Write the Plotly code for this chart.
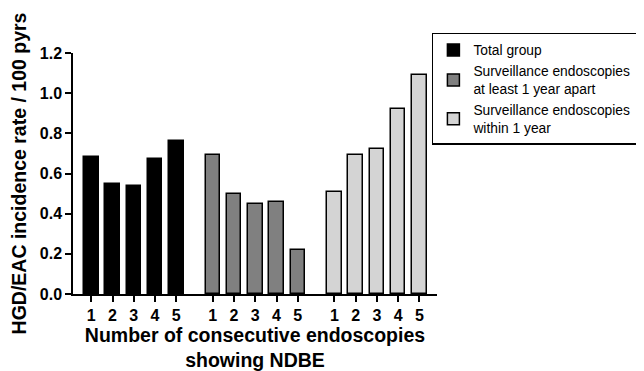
import plotly.graph_objects as go

tick_labels = ["1", "2", "3", "4", "5"]
series_names = ["Total group", "Surveillance endoscopies<br>at least 1 year apart",
                "Surveillance endoscopies<br>within 1 year"]
total_group = [0.68, 0.55, 0.54, 0.67, 0.76]
at_least_1yr = [0.69, 0.50, 0.45, 0.46, 0.22]
within_1yr = [0.51, 0.69, 0.72, 0.92, 1.09]
colors = ["#000000", "#808080", "#d4d4d4"]

series = [total_group, at_least_1yr, within_1yr]
group_step = 5.72
FONT = "Liberation Sans, Arial, sans-serif"

fig = go.Figure()
xs_all, labels_all = [], []
for g, (name, vals, col) in enumerate(zip(series_names, series, colors)):
    xs = [g * group_step + i for i in range(len(vals))]
    xs_all += xs
    labels_all += ["<b>%s</b>" % t for t in tick_labels]
    fig.add_trace(go.Bar(
        x=xs, y=vals, name=name, width=0.68,
        marker=dict(color=col, line=dict(color="#000000", width=1.5)),
    ))

fig.update_layout(
    width=664, height=363,
    margin=dict(l=65, r=235, t=45, b=77),
    paper_bgcolor="white", plot_bgcolor="white",
    font=dict(family=FONT, color="#000000"),
    showlegend=True,
    legend=dict(x=0.986, xanchor="left", y=1.083, yanchor="top",
                bordercolor="#000000", borderwidth=1.5,
                font=dict(size=13.8), tracegroupgap=0,
                itemwidth=30),
    bargap=0,
)
fig.update_xaxes(
    range=[-0.86, 2 * group_step + 4 + 0.83],
    tickmode="array", tickvals=xs_all, ticktext=labels_all,
    ticks="outside", ticklen=6, tickwidth=1.5, tickcolor="#000000",
    showline=True, linecolor="#000000", linewidth=1.5,
    showgrid=False, zeroline=False,
    tickfont=dict(size=16),
    title=dict(text="<b>Number of consecutive endoscopies<br>showing NDBE</b>",
               font=dict(size=19.5), standoff=8),
    automargin=False,
)
fig.update_yaxes(
    range=[0, 1.2], tickvals=[0, 0.2, 0.4, 0.6, 0.8, 1.0, 1.2],
    ticktext=["<b>0.0</b>", "<b>0.2</b>", "<b>0.4</b>", "<b>0.6</b>",
              "<b>0.8</b>", "<b>1.0</b>", "<b>1.2</b>"],
    ticks="outside", ticklen=6, tickwidth=1.5, tickcolor="#000000",
    showline=True, linecolor="#000000", linewidth=1.5,
    showgrid=False, zeroline=False,
    tickfont=dict(size=16),
    title=dict(text="<b>HGD/EAC incidence rate / 100 pyrs</b>",
               font=dict(size=19.5), standoff=10),
    automargin=False,
)

fig.write_html("out.html")
